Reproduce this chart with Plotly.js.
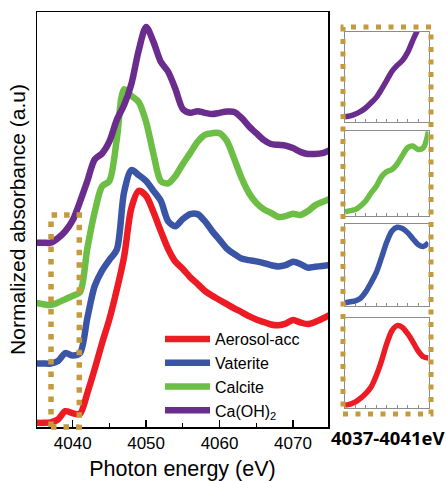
<!DOCTYPE html>
<html><head><meta charset="utf-8">
<script src="https://cdn.plot.ly/plotly-3.0.1.min.js"></script>
<style>html,body{margin:0;padding:0;background:#fff}#chart{width:446px;height:481px}</style>
</head><body><div id="chart"></div>
<script>
// Photon energy grid (eV)
const energy = [4035,4036,4037,4038,4039,4040,4041,4042,4043,4044,4045,4046,4047,4048,4049,4050,4051,4052,4053,4054,4055,4056,4057,4058,4059,4060,4061,4062,4063,4064,4065,4066,4067,4068,4069,4070,4071,4072,4073,4074,4075];
// Normalized absorbance (offset, a.u.)
const aerosolAcc = [0.10,0.10,0.11,0.18,0.38,0.33,0.32,0.82,1.40,2.02,2.60,3.30,4.10,5.28,5.69,5.57,5.18,4.72,4.29,3.98,3.81,3.61,3.45,3.28,3.16,3.06,2.96,2.86,2.77,2.67,2.59,2.53,2.47,2.45,2.49,2.58,2.52,2.48,2.53,2.61,2.70];
const vaterite   = [1.53,1.53,1.53,1.59,1.78,1.72,1.78,2.63,3.40,3.77,4.03,4.27,5.66,6.19,6.07,5.93,5.69,5.45,4.96,4.84,5.01,5.13,5.13,4.96,4.72,4.51,4.30,4.17,4.06,4.02,3.99,3.95,3.90,3.87,3.90,3.98,3.93,3.84,3.86,3.88,3.90];
const calcite    = [2.99,2.96,2.94,3.00,3.08,3.16,3.25,4.31,5.18,5.80,5.93,6.92,8.14,7.98,7.83,7.35,6.58,5.93,5.87,6.05,6.34,6.60,6.87,7.04,7.08,7.08,6.89,6.46,6.00,5.64,5.40,5.25,5.16,5.06,5.08,5.14,5.11,5.20,5.34,5.42,5.49];
const caOH2      = [4.44,4.44,4.44,4.55,4.72,4.98,5.43,5.93,6.45,6.59,6.88,7.40,7.76,8.27,9.08,9.64,9.28,8.80,8.56,8.14,7.66,7.57,7.61,7.57,7.54,7.57,7.60,7.59,7.45,7.25,7.08,6.92,6.82,6.80,6.78,6.72,6.63,6.58,6.58,6.60,6.67];

// Pre-edge insets 4037-4041 eV (relative scale)
const insetEnergy = [4037,4037.25,4037.5,4037.75,4038,4038.25,4038.5,4038.75,4039,4039.25,4039.5,4039.75,4040,4040.25,4040.5,4040.75,4041];
const insetCaOH2      = [0.056,0.065,0.085,0.115,0.155,0.21,0.27,0.36,0.46,0.56,0.625,0.68,0.77,0.905,1.03,1.15,1.28];
const insetCalcite    = [0.05,0.063,0.077,0.12,0.18,0.27,0.35,0.46,0.52,0.545,0.61,0.71,0.80,0.82,0.78,0.80,0.99];
const insetVaterite   = [0.04,0.052,0.063,0.097,0.175,0.285,0.41,0.59,0.78,0.915,0.96,0.945,0.895,0.82,0.75,0.725,0.77];
const insetAerosolAcc = [0.028,0.04,0.064,0.107,0.16,0.23,0.357,0.52,0.71,0.855,0.91,0.89,0.82,0.73,0.63,0.565,0.55];

const seriesNames = ['Aerosol-acc','Vaterite','Calcite','Ca(OH)<sub>2</sub>'];
const seriesColors = ['#ED1C24','#3A55A5','#6DBE45','#6B2D8D'];
const boxColor = '#C49A3C';

const mainSeries = [aerosolAcc, vaterite, calcite, caOH2];
const insetSeries = [insetAerosolAcc, insetVaterite, insetCalcite, insetCaOH2];
// inset subplot axes, bottom (red) to top (purple)
const insetAxes = [['x5','y5'],['x4','y4'],['x3','y3'],['x2','y2']];

const traces = [];
mainSeries.forEach((ys, i) => {
  traces.push({x: energy, y: ys, name: seriesNames[i], type: 'scatter', mode: 'lines',
    line: {color: seriesColors[i], width: 6.5, shape: 'spline', smoothing: 0.8}, xaxis: 'x', yaxis: 'y'});
});
insetSeries.forEach((ys, i) => {
  traces.push({x: insetEnergy, y: ys, name: seriesNames[i], type: 'scatter', mode: 'lines', showlegend: false,
    line: {color: seriesColors[i], width: 5.5, shape: 'spline', smoothing: 0.8},
    xaxis: insetAxes[i][0], yaxis: insetAxes[i][1], hoverinfo: 'skip'});
});

const W = 446, H = 481;
const px = v => v / W, py = v => 1 - v / H;

function insetX(anchor){
  return {domain: [px(345), px(428.5)], range: [4037, 4041], anchor: anchor, showline: true, mirror: true,
    linecolor: '#8c8c8c', linewidth: 1, ticks: 'inside', ticklen: 3, tickcolor: '#8c8c8c', tickwidth: 1,
    tick0: 4037, dtick: 0.5, showticklabels: false, showgrid: false, zeroline: false, fixedrange: true};
}
function insetY(anchor, top, bottom){
  return {domain: [py(bottom), py(top)], range: [0, 1], anchor: anchor, showline: true, mirror: true,
    linecolor: '#8c8c8c', linewidth: 1, ticks: '', showticklabels: false, showgrid: false, zeroline: false, fixedrange: true};
}

const layout = {
  width: W, height: H,
  margin: {l: 0, r: 0, t: 0, b: 0},
  paper_bgcolor: '#fff', plot_bgcolor: '#fff',
  font: {family: 'Liberation Sans, Arial, sans-serif', color: '#000'},
  showlegend: true,
  legend: {x: px(160), y: py(322), xanchor: 'left', yanchor: 'top', bgcolor: 'rgba(0,0,0,0)',
    borderwidth: 0, font: {size: 16, color: '#000'}, itemwidth: 45, tracegroupgap: 0},
  xaxis: {domain: [px(37), px(328)], range: [4035.14, 4074.77], anchor: 'y',
    showline: true, mirror: true, linecolor: '#000', linewidth: 1.5,
    ticks: 'inside', ticklen: 7, tickwidth: 1.3, tickcolor: '#000', tick0: 4040, dtick: 10,
    minor: {ticks: 'inside', tick0: 4035, dtick: 5, ticklen: 4, tickwidth: 1.3, tickcolor: '#000', showgrid: false},
    showgrid: false, zeroline: false, tickfont: {size: 17},
    title: {text: 'Photon energy (eV)', font: {size: 21.5}, standoff: 9}},
  yaxis: {domain: [py(427), py(12)], range: [0, 10], anchor: 'x',
    showline: true, mirror: true, linecolor: '#000', linewidth: 1.5,
    ticks: '', showticklabels: false, showgrid: false, zeroline: false,
    title: {text: 'Normalized absorbance (a.u)', font: {size: 21}, standoff: 4}},
  xaxis2: insetX('y2'), yaxis2: insetY('x2', 31.7, 121.7),
  xaxis3: insetX('y3'), yaxis3: insetY('x3', 130.7, 216),
  xaxis4: insetX('y4'), yaxis4: insetY('x4', 224, 306),
  xaxis5: insetX('y5'), yaxis5: insetY('x5', 317.5, 407.7),
  shapes: [
    {type: 'rect', xref: 'x', yref: 'paper', x0: 4037.05, x1: 4040.9, y0: py(427), y1: py(215),
     line: {color: boxColor, width: 5.5, dash: '5.5px,7px'}, layer: 'above'},
    {type: 'rect', xref: 'paper', yref: 'paper', x0: px(343), x1: px(431), y0: py(414), y1: py(27),
     line: {color: boxColor, width: 5, dash: '5px,7.5px'}, layer: 'above'}
  ],
  annotations: [
    {text: '<b>4037-4041eV</b>', xref: 'paper', yref: 'paper', x: px(388), y: py(437),
     xanchor: 'center', yanchor: 'middle', showarrow: false,
     font: {family: 'Open Sans, Liberation Sans, sans-serif', size: 18.5, color: '#000'}}
  ]
};

Plotly.newPlot('chart', traces, layout, {staticPlot: true, displayModeBar: false});
</script>
</body></html>
